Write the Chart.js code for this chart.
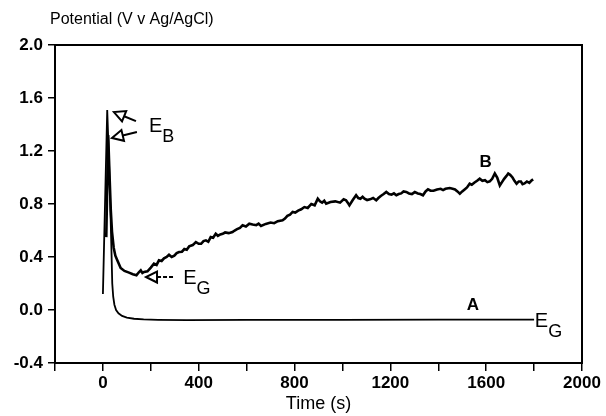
<!DOCTYPE html>
<html>
<head>
<meta charset="utf-8">
<script src="https://cdn.jsdelivr.net/npm/chart.js@4/dist/chart.umd.min.js"></script>
<style>
  html, body { margin: 0; padding: 0; background: #fff; }
  #wrap { width: 606px; height: 416px; position: relative; }
</style>
</head>
<body>
<div id="wrap"><canvas id="potChart"></canvas></div>
<script>
// curve A
const timeA = [0, 18, 24, 30, 35, 39, 43, 48, 55, 65, 80, 100, 130, 170, 230, 350, 600, 1000, 1400, 1800];
const potA = [0.12, 1.51, 1.2, 0.85, 0.5, 0.2, 0.1, 0.04, 0.0, -0.025, -0.045, -0.058, -0.066, -0.071, -0.074, -0.076, -0.075, -0.074, -0.073, -0.073];

// curve B
const timeB = [14, 22, 28, 33, 38, 45, 52, 60, 74, 90, 109, 125, 140, 150, 158, 165, 172, 186, 200, 213,
  224, 234, 245, 255, 266, 276, 287, 298, 308, 318, 330, 340, 350, 360, 375, 388, 400, 410, 420, 430,
  440, 450, 460, 471, 480, 490, 500, 510, 525, 541, 550, 560, 572, 583, 597, 611, 625, 640, 650, 660,
  680, 700, 715, 730, 750, 760, 770, 781, 792, 803, 815, 828, 841, 855, 870, 884, 897, 906, 915, 924,
  932, 950, 970, 990, 1005, 1015, 1022, 1029, 1043, 1057, 1066, 1075, 1084, 1092, 1103, 1115, 1128, 1141, 1150, 1160,
  1172, 1183, 1194, 1205, 1215, 1225, 1235, 1245, 1255, 1266, 1278, 1290, 1302, 1315, 1325, 1336, 1347, 1357, 1368, 1380,
  1395, 1410, 1420, 1430, 1448, 1460, 1470, 1480, 1490, 1500, 1510, 1520, 1531, 1540, 1550, 1562, 1573, 1584, 1595, 1605,
  1615, 1625, 1636, 1646, 1657, 1666, 1675, 1684, 1692, 1700, 1710, 1718, 1727, 1736, 1745, 1752, 1760, 1770, 1780, 1788, 1796];
const potB = [0.55, 1.32, 1.0, 0.75, 0.59, 0.47, 0.41, 0.375, 0.317, 0.295, 0.282, 0.27, 0.262, 0.285, 0.3, 0.28, 0.287, 0.292, 0.32, 0.35,
  0.34, 0.375, 0.37, 0.39, 0.40, 0.417, 0.40, 0.41, 0.43, 0.438, 0.44, 0.46, 0.455, 0.48, 0.49, 0.513, 0.50, 0.50, 0.52, 0.526,
  0.515, 0.55, 0.545, 0.576, 0.56, 0.57, 0.575, 0.585, 0.58, 0.589, 0.6, 0.61, 0.62, 0.639, 0.63, 0.651, 0.645, 0.64, 0.652, 0.634,
  0.65, 0.66, 0.655, 0.67, 0.677, 0.69, 0.71, 0.72, 0.74, 0.735, 0.75, 0.76, 0.777, 0.77, 0.8, 0.79, 0.84, 0.82, 0.81, 0.825,
  0.802, 0.815, 0.82, 0.81, 0.835, 0.828, 0.81, 0.79, 0.83, 0.866, 0.845, 0.84, 0.855, 0.84, 0.83, 0.835, 0.845, 0.828, 0.845, 0.86,
  0.875, 0.891, 0.875, 0.87, 0.88, 0.866, 0.875, 0.88, 0.895, 0.891, 0.88, 0.875, 0.89, 0.88, 0.875, 0.866, 0.895, 0.911, 0.9, 0.9,
  0.91, 0.915, 0.905, 0.915, 0.921, 0.915, 0.91, 0.895, 0.878, 0.895, 0.91, 0.925, 0.953, 0.945, 0.96, 0.975, 0.991, 0.975, 0.98, 0.965,
  0.971, 0.99, 1.03, 1.0, 0.94, 0.965, 0.99, 1.01, 1.03, 1.02, 1.0, 0.975, 0.953, 0.97, 0.97, 0.95, 0.955, 0.97, 0.96, 0.975, 0.986];

const xTicks = [0, 400, 800, 1200, 1600, 2000];
const yTicks = [-0.4, 0.0, 0.4, 0.8, 1.2, 1.6, 2.0];

// annotations in data units
const arrows = [
  { tip: [46, 1.494], tail: [138, 1.426], dashed: false },
  { tip: [38, 1.298], tail: [142, 1.343], dashed: false },
  { tip: [180, 0.249], tail: [297, 0.249], dashed: true }
];
const subLabels = [
  { at: [192, 1.343], main: 'E', sub: 'B' },
  { at: [335, 0.196], main: 'E', sub: 'G' },
  { at: [1803, -0.128], main: 'E', sub: 'G' }
];
const curveLabels = [
  { at: [1544, 0.0], text: 'A' },
  { at: [1598, 1.08], text: 'B' }
];

const FONT = '"Liberation Sans", Arial, sans-serif';

function toPoints(xs, ys) {
  return xs.map((x, i) => ({ x: x, y: ys[i] }));
}

const frameAndNotes = {
  id: 'frameAndNotes',
  afterDraw(chart) {
    const ctx = chart.ctx;
    const a = chart.chartArea;
    const xs = chart.scales.x;
    const ys = chart.scales.y;
    ctx.save();
    ctx.strokeStyle = '#000';
    ctx.lineWidth = 2;
    ctx.strokeRect(a.left, a.top, a.right - a.left, a.bottom - a.top);

    // axis title on top
    ctx.fillStyle = '#000';
    ctx.font = '16px ' + FONT;
    ctx.textAlign = 'left';
    ctx.textBaseline = 'middle';
    ctx.fillText('Potential (V v Ag/AgCl)', 50, 20);

    // arrows
    arrows.forEach(ar => {
      const tx = xs.getPixelForValue(ar.tip[0]), ty = ys.getPixelForValue(ar.tip[1]);
      const ex = xs.getPixelForValue(ar.tail[0]), ey = ys.getPixelForValue(ar.tail[1]);
      const len = Math.hypot(ex - tx, ey - ty);
      const ux = (ex - tx) / len, uy = (ey - ty) / len;
      const hl = 11, hw = 5.5;
      const bx = tx + ux * hl, by = ty + uy * hl;
      ctx.lineWidth = 2;
      ctx.setLineDash(ar.dashed ? [4, 2] : []);
      ctx.beginPath();
      ctx.moveTo(bx, by);
      ctx.lineTo(ex, ey);
      ctx.stroke();
      ctx.setLineDash([]);
      ctx.beginPath();
      ctx.moveTo(tx, ty);
      ctx.lineTo(bx - uy * hw, by + ux * hw);
      ctx.lineTo(bx + uy * hw, by - ux * hw);
      ctx.closePath();
      ctx.fillStyle = '#fff';
      ctx.fill();
      ctx.stroke();
    });

    // E labels with subscripts
    ctx.fillStyle = '#000';
    ctx.textAlign = 'left';
    ctx.textBaseline = 'alphabetic';
    subLabels.forEach(l => {
      const px = xs.getPixelForValue(l.at[0]), py = ys.getPixelForValue(l.at[1]);
      ctx.font = '20px ' + FONT;
      ctx.fillText(l.main, px, py);
      const w = ctx.measureText(l.main).width;
      ctx.font = '18px ' + FONT;
      ctx.fillText(l.sub, px + w, py + 10);
    });

    ctx.font = 'bold 17px ' + FONT;
    ctx.textAlign = 'center';
    curveLabels.forEach(l => {
      ctx.fillText(l.text, xs.getPixelForValue(l.at[0]), ys.getPixelForValue(l.at[1]));
    });
    ctx.restore();
  }
};

new Chart(document.getElementById('potChart'), {
  type: 'line',
  data: {
    datasets: [
      {
        label: 'A',
        data: toPoints(timeA, potA),
        borderColor: '#000',
        borderWidth: 1.8,
        pointRadius: 0,
        tension: 0
      },
      {
        label: 'B',
        data: toPoints(timeB, potB),
        borderColor: '#000',
        borderWidth: 2.6,
        pointRadius: 0,
        tension: 0
      }
    ]
  },
  options: {
    responsive: true,
    maintainAspectRatio: false,
    animation: false,
    layout: { padding: { top: 45, right: 24, left: 0, bottom: 0 } },
    plugins: {
      legend: { display: false },
      tooltip: { enabled: false }
    },
    scales: {
      x: {
        type: 'linear',
        min: -200,
        max: 2000,
        afterFit: s => { s.height = 53; },
        border: { display: true, color: '#000', width: 2 },
        grid: { drawOnChartArea: false, drawTicks: true, tickLength: 8, color: '#000', lineWidth: 1.5 },
        ticks: {
          stepSize: 200,
          color: '#000',
          padding: 2,
          maxRotation: 0,
          autoSkip: false,
          font: { family: FONT, size: 17, weight: 'bold' },
          callback: v => xTicks.includes(v) ? String(v) : ''
        },
        title: {
          display: true,
          text: 'Time (s)',
          color: '#000',
          font: { family: FONT, size: 18 },
          padding: { top: 0, bottom: 1 }
        }
      },
      y: {
        min: -0.4,
        max: 2.0,
        afterFit: s => { s.width = 55; },
        border: { display: true, color: '#000', width: 2 },
        grid: { drawOnChartArea: false, drawTicks: true, tickLength: 7, color: '#000', lineWidth: 1.5 },
        ticks: {
          stepSize: 0.4,
          color: '#000',
          padding: 5,
          autoSkip: false,
          font: { family: FONT, size: 17, weight: 'bold' },
          callback: v => yTicks.some(t => Math.abs(t - v) < 1e-6) ? (Math.abs(v) < 1e-6 ? '0.0' : v.toFixed(1)) : ''
        }
      }
    }
  },
  plugins: [frameAndNotes]
});
</script>
</body>
</html>
